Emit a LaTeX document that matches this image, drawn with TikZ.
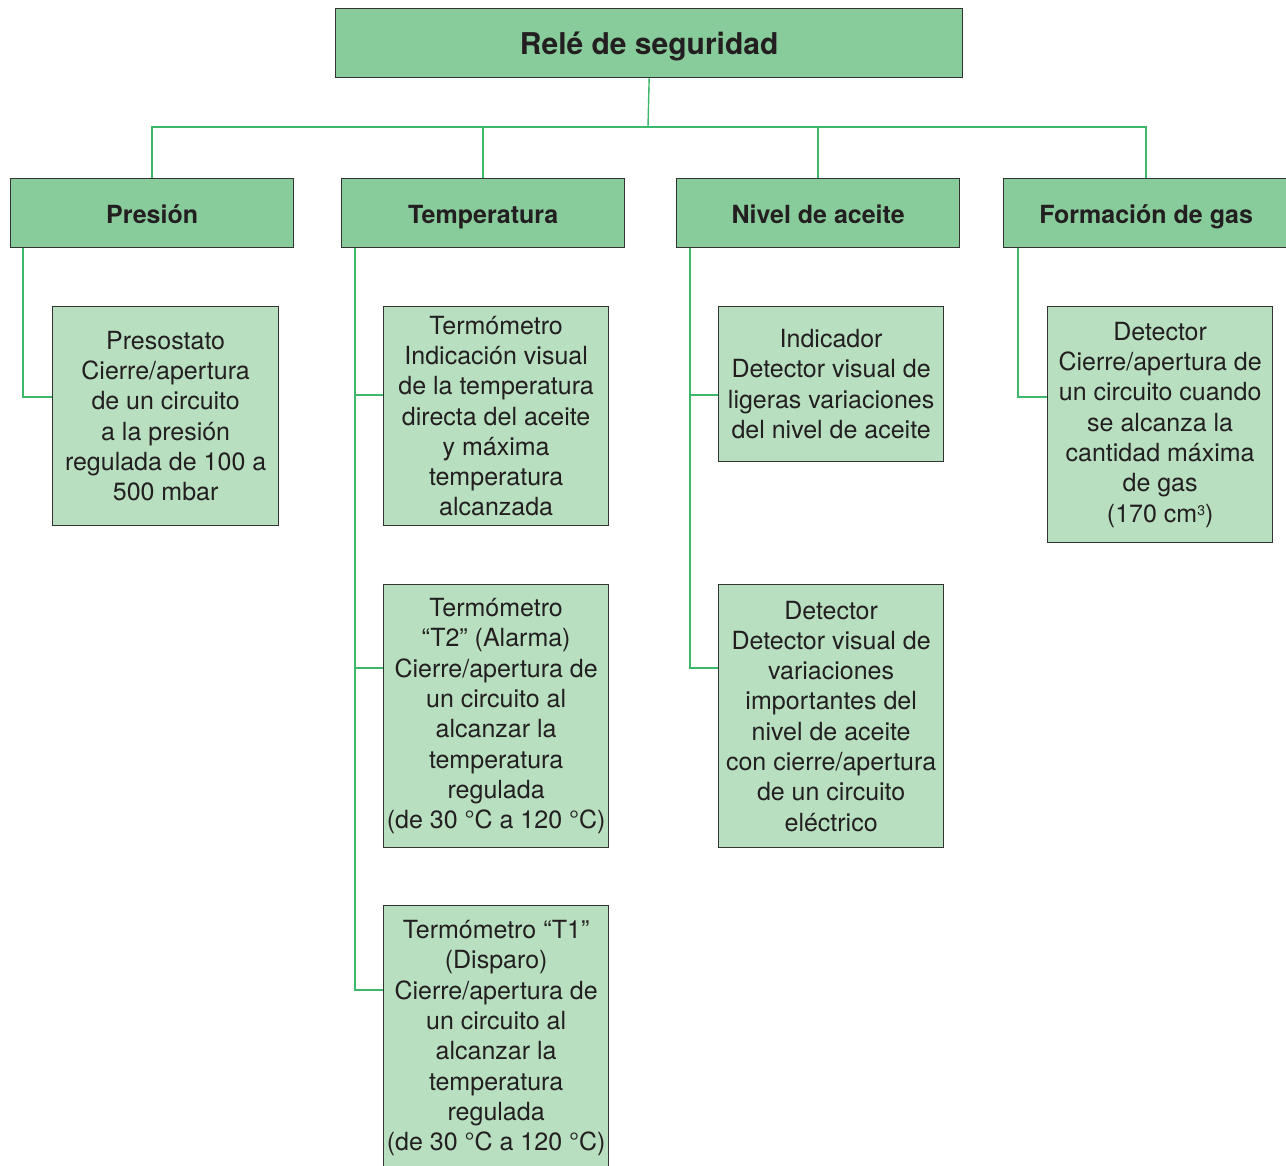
\documentclass[tikz,border=0pt]{standalone}
\usepackage{fontspec}
\setmainfont{TeX Gyre Heros}
\definecolor{hdr}{HTML}{88CC9C}
\definecolor{leaf}{HTML}{B8DFC0}
\definecolor{conn}{HTML}{3DB86A}
\definecolor{bord}{HTML}{333333}
\definecolor{txt}{HTML}{231F20}
\tikzset{
  basebox/.style={draw=bord, line width=1.3pt, inner sep=0pt, align=center, anchor=north west, text=txt},
  rootbox/.style={basebox, fill=hdr, text height=23pt, text depth=0pt, font=\fontsize{30}{34}\selectfont\bfseries},
  catbox/.style={basebox, fill=hdr, minimum height=69pt, text height=21pt, text depth=0pt, font=\fontsize{25}{30}\selectfont\bfseries},
  leafbox/.style={basebox, fill=leaf, font=\fontsize{25}{30.3}\selectfont},
  link/.style={draw=conn, line width=1.4pt}
}
\begin{document}
\begin{tikzpicture}[x=1pt,y=-1pt]
\path[use as bounding box, clip] (0,0) rectangle (1286,1166);
% root
\node[rootbox, minimum width=627pt, minimum height=69pt] (root) at (335,8) {Relé de seguridad};
% categories
\node[catbox, minimum width=283pt] (pres) at (10,178) {Presión};
\node[catbox, minimum width=283pt] (temp) at (341,178) {Temperatura};
\node[catbox, minimum width=283pt] (niv) at (676,178) {Nivel de aceite};
\node[catbox, minimum width=285pt] (gas) at (1003,178) {Formación de gas};
% leaves
\node[leafbox, minimum width=226pt, minimum height=219pt] (pso) at (52,306)
  {Presostato\\Cierre/apertura\\de un circuito\\a la presión\\regulada de 100 a\\500 mbar};
\node[leafbox, minimum width=225pt, minimum height=219pt] (tt0) at (383,306)
  {Termómetro\\Indicación visual\\de la temperatura\\directa del aceite\\y máxima\\temperatura\\alcanzada};
\node[leafbox, minimum width=225pt, minimum height=263pt] (tt2) at (383,584)
  {Termómetro\\“T2” (Alarma)\\Cierre/apertura de\\un circuito al\\alcanzar la\\temperatura\\regulada\\(de 30 °C a 120 °C)};
\node[leafbox, minimum width=225pt, minimum height=265pt] (tt1) at (383,905)
  {Termómetro “T1”\\(Disparo)\\Cierre/apertura de\\un circuito al\\alcanzar la\\temperatura\\regulada\\(de 30 °C a 120 °C)};
\node[leafbox, minimum width=225pt, minimum height=155pt] (ind) at (718,306)
  {Indicador\\Detector visual de\\ligeras variaciones\\del nivel de aceite};
\node[leafbox, minimum width=225pt, minimum height=263pt] (det) at (718,584)
  {Detector\\Detector visual de\\variaciones\\importantes del\\nivel de aceite\\con cierre/apertura\\de un circuito\\eléctrico};
\node[leafbox, minimum width=225pt, minimum height=236pt] (gdet) at (1047,306)
  {Detector\\Cierre/apertura de\\un circuito cuando\\se alcanza la\\cantidad máxima\\de gas\\(170 cm\smash{\raisebox{7pt}{\fontsize{14}{14}\selectfont 3}})};
% top connectors
\coordinate (bus) at (648,127);
\draw[link] (root.south) -- (bus);
\draw[link] (pres.north) -- (pres.north |- bus) -- (gas.north |- bus) -- (gas.north);
\draw[link] (temp.north) -- (temp.north |- bus);
\draw[link] (niv.north) -- (niv.north |- bus);
% branch connectors
\coordinate (px) at ([xshift=13pt]pres.south west);
\coordinate (tx) at ([xshift=14pt]temp.south west);
\coordinate (nx) at ([xshift=14pt]niv.south west);
\coordinate (gx) at ([xshift=15pt]gas.south west);
\draw[link] (px) |- ([yshift=-91pt]pso.north west);
\draw[link] (tx) |- ([yshift=-85pt]tt1.north west);
\draw[link] ([yshift=-89pt]tt0.north west) -| (tx);
\draw[link] ([yshift=-84pt]tt2.north west) -| (tx);
\draw[link] (nx) |- ([yshift=-84pt]det.north west);
\draw[link] ([yshift=-89pt]ind.north west) -| (nx);
\draw[link] (gx) |- ([yshift=-91pt]gdet.north west);
\end{tikzpicture}
\end{document}
